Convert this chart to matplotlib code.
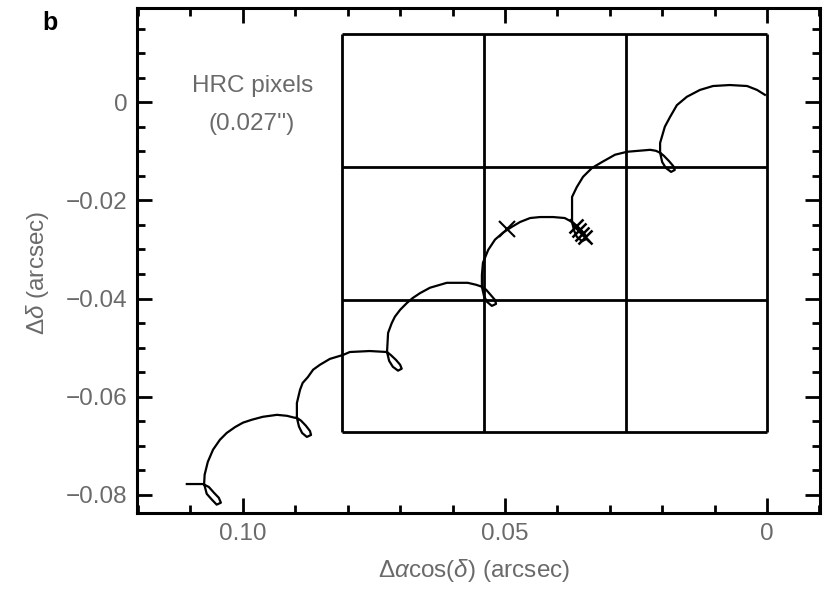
import matplotlib
matplotlib.use("Agg")
from matplotlib import pyplot as plt
from matplotlib.ticker import MultipleLocator, FixedLocator, FixedFormatter

plt.rcParams['font.family'] = ['Liberation Sans', 'DejaVu Sans']
plt.rcParams['mathtext.fontset'] = 'custom'
plt.rcParams['mathtext.rm'] = 'Liberation Sans'
plt.rcParams['mathtext.it'] = 'Liberation Sans:italic'

# star track (arcsec): start stub, then loop + hump per year
track_x = [0.1107, 0.1076,
           0.1065, 0.1055, 0.1046, 0.1042, 0.1050, 0.1059, 0.1069, 0.1074,
           0.1073, 0.1067, 0.1057, 0.1044, 0.1031, 0.1015, 0.1000, 0.0983, 0.0962, 0.0935, 0.0916, 0.0901, 0.0897,
           0.0889, 0.0880, 0.0872, 0.0870, 0.0878, 0.0887, 0.0893, 0.0897,
           0.0897, 0.0891, 0.0886, 0.0876, 0.0866, 0.0853, 0.0834, 0.0809, 0.0796, 0.0758, 0.0725,
           0.0718, 0.0708, 0.0700, 0.0697, 0.0704, 0.0714, 0.0721, 0.0725,
           0.0723, 0.0716, 0.0710, 0.0700, 0.0687, 0.0676, 0.0662, 0.0643, 0.0611, 0.0571, 0.0555, 0.0544,
           0.0536, 0.0527, 0.0519, 0.0517, 0.0525, 0.0534, 0.0540, 0.0544,
           0.0544, 0.0542, 0.0532, 0.0519, 0.0504, 0.0487, 0.0471, 0.0452, 0.0433, 0.0408, 0.0386, 0.0372,
           0.0365, 0.0355, 0.0347, 0.0345, 0.0353, 0.0363, 0.0368, 0.0372,
           0.0372, 0.0363, 0.0351, 0.0334, 0.0315, 0.0290, 0.0267, 0.0223, 0.0212, 0.0204,
           0.0197, 0.0187, 0.0179, 0.0176, 0.0183, 0.0193, 0.0200, 0.0204,
           0.0204, 0.0195, 0.0185, 0.0172, 0.0153, 0.0128, 0.0103, 0.0071, 0.0038, 0.0019, 0.0004]
track_y = [-0.0778, -0.0778,
           -0.0784, -0.0796, -0.0806, -0.0816, -0.0820, -0.0810, -0.0798, -0.0778,
           -0.0759, -0.0733, -0.0708, -0.0688, -0.0674, -0.0662, -0.0653, -0.0647, -0.0641, -0.0637, -0.0639, -0.0643, -0.0643,
           -0.0649, -0.0659, -0.0670, -0.0678, -0.0682, -0.0674, -0.0661, -0.0643,
           -0.0613, -0.0586, -0.0572, -0.0560, -0.0545, -0.0535, -0.0523, -0.0515, -0.0509, -0.0507, -0.0509,
           -0.0515, -0.0525, -0.0535, -0.0543, -0.0547, -0.0539, -0.0527, -0.0509,
           -0.0470, -0.0450, -0.0437, -0.0423, -0.0409, -0.0399, -0.0389, -0.0378, -0.0368, -0.0368, -0.0372, -0.0376,
           -0.0382, -0.0393, -0.0403, -0.0411, -0.0415, -0.0407, -0.0395, -0.0376,
           -0.0352, -0.0327, -0.0301, -0.0280, -0.0266, -0.0254, -0.0244, -0.0236, -0.0234, -0.0234, -0.0236, -0.0244,
           -0.0250, -0.0260, -0.0270, -0.0279, -0.0283, -0.0274, -0.0262, -0.0244,
           -0.0193, -0.0173, -0.0152, -0.0134, -0.0122, -0.0107, -0.0101, -0.0097, -0.0099, -0.0103,
           -0.0109, -0.0120, -0.0130, -0.0138, -0.0142, -0.0134, -0.0122, -0.0103,
           -0.0083, -0.0050, -0.0030, -0.0006, 0.0011, 0.0025, 0.0033, 0.0035, 0.0033, 0.0025, 0.0015]

# observation epochs marked with crosses
obs_x = [0.0496, 0.0365, 0.0359, 0.0353, 0.0347]
obs_y = [-0.0258, -0.0252, -0.0260, -0.0268, -0.0274]

# HRC pixel grid (0.027 arcsec pixels)
grid_x = [0.081, 0.054, 0.027, 0.0]
grid_y = [0.0138, -0.0132, -0.0402, -0.0672]

xticks = [0.10, 0.05, 0.0]
xtick_labels = ['0.10', '0.05', '0']
yticks = [0.0, -0.02, -0.04, -0.06, -0.08]
ytick_labels = ['0', '\u22120.02', '\u22120.04', '\u22120.06', '\u22120.08']

grey = '#6a6a6a'

fig = plt.figure(figsize=(8.24, 5.91), dpi=100)
ax = fig.add_axes([0.1663, 0.132, 0.8288, 0.8545])

for gx in grid_x:
    ax.plot([gx, gx], [grid_y[0], grid_y[-1]], color='black', lw=2.0, solid_capstyle='butt')
for gy in grid_y:
    ax.plot([grid_x[0], grid_x[-1]], [gy, gy], color='black', lw=2.0, solid_capstyle='butt')

ax.plot(track_x, track_y, color='black', lw=1.6)
ax.plot(obs_x[:1], obs_y[:1], linestyle='none', marker='x', color='black', markersize=12, markeredgewidth=1.5)
ax.plot(obs_x[1:], obs_y[1:], linestyle='none', marker='x', color='black', markersize=10, markeredgewidth=1.8)

ax.text(0.0981, 0.0033, 'HRC pixels', ha='center', va='center', fontsize=17.5, color=grey)
ax.text(0.0983, -0.0044, "(0.027'')", ha='center', va='center', fontsize=17.5, color=grey)

ax.set_xlim(0.1202, -0.0101)
ax.set_ylim(-0.0837, 0.0192)

ax.xaxis.set_major_locator(FixedLocator(xticks))
ax.xaxis.set_major_formatter(FixedFormatter(xtick_labels))
ax.yaxis.set_major_locator(FixedLocator(yticks))
ax.yaxis.set_major_formatter(FixedFormatter(ytick_labels))
ax.xaxis.set_minor_locator(MultipleLocator(0.01))
ax.yaxis.set_minor_locator(MultipleLocator(0.005))

ax.tick_params(which='both', direction='in', top=True, right=True, width=2, color='black',
               labelsize=17.5, labelcolor=grey)
ax.tick_params(which='major', length=11, pad=7)
ax.tick_params(which='minor', length=6)
for sp in ax.spines.values():
    sp.set_linewidth(2.2)

ax.set_xlabel(r'$\Delta\alpha$cos($\delta$) (arcsec)', fontsize=17.5, color=grey)
ax.set_ylabel(r'$\Delta\delta$ (arcsec)', fontsize=17.5, color=grey)
ax.xaxis.label.set_va('center')
ax.yaxis.label.set_va('center')
ax.xaxis.set_label_coords(0.493, -0.113)
ax.yaxis.set_label_coords(-0.146, 0.475)

fig.text(42 / 824, 1 - 30 / 591, 'b', fontsize=18, fontweight='bold', ha='left', va='baseline')

fig.savefig('out.png', dpi=100)
